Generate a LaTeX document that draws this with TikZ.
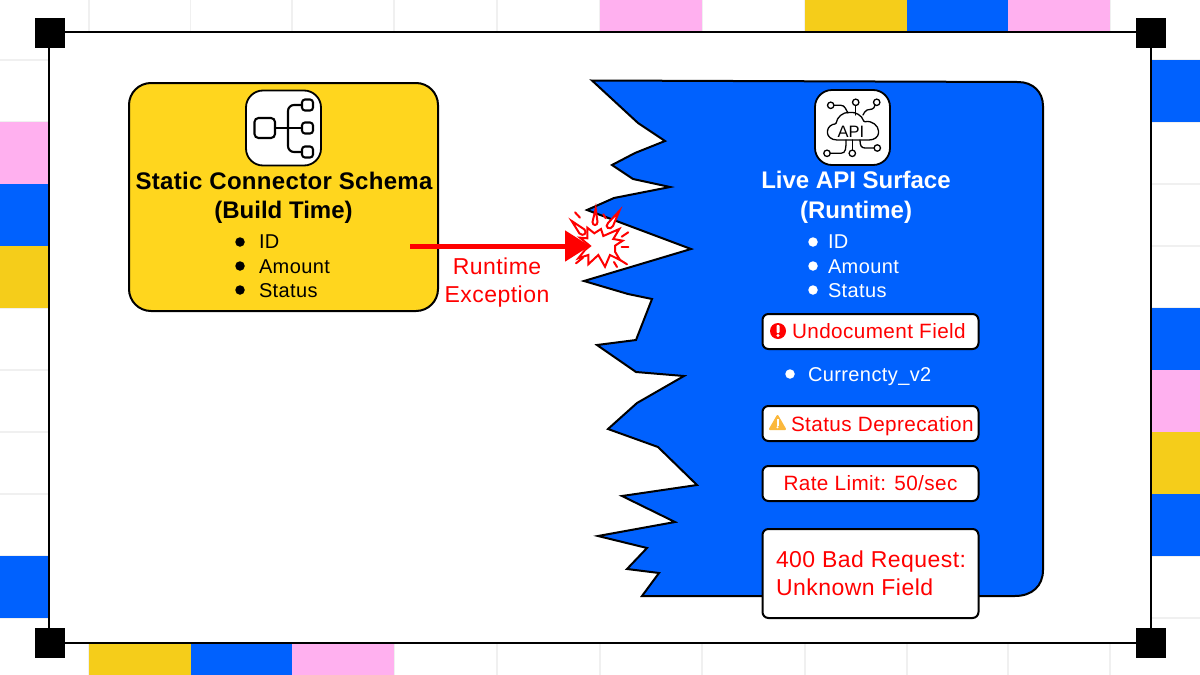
\documentclass[tikz,border=0pt]{standalone}
\usepackage{fontspec}
\setmainfont{Liberation Sans}
\newfontfamily\ftA[LetterSpace=2]{Liberation Sans}
\newfontfamily\ftB[LetterSpace=2]{Liberation Sans}
\newfontfamily\ftC[LetterSpace=1.3]{Liberation Sans}
\newfontfamily\ftD{Liberation Sans}
\usetikzlibrary{arrows.meta}
\definecolor{tblue}{HTML}{0061FE}
\definecolor{tpink}{HTML}{FFB0EF}
\definecolor{tyell}{HTML}{F5CD1A}
\definecolor{nyell}{HTML}{FFD61E}
\definecolor{grid}{HTML}{F0F0F0}
\definecolor{warn}{HTML}{FBB83C}
\definecolor{bang}{HTML}{FF0000}
\tikzset{
  tile/.style={draw=none},
  gridline/.style={draw=grid,line width=1.2pt},
  frameline/.style={draw=black,line width=2pt,fill=white},
  corner/.style={fill=black,draw=none,minimum size=30pt,inner sep=0pt},
  shapeline/.style={draw=black,line width=2pt,line join=miter},
  iconbox/.style={draw=black,line width=1.8pt,fill=white,rounded corners=17pt,minimum width=75pt,minimum height=75pt,inner sep=0pt},
  redbox/.style={draw=black,line width=2pt,fill=white,rounded corners=6pt,minimum width=216pt,inner sep=0pt},
  icoline/.style={draw=black,line width=2.1pt,line cap=round},
  icothin/.style={draw=black,line width=1.3pt,line cap=round},
  txt/.style={anchor=base west,inner sep=0pt,outer sep=0pt},
  ctr/.style={anchor=base,inner sep=0pt,outer sep=0pt},
  body/.style={font=\ftA\fontsize{20}{24}\selectfont},
  alert/.style={text=red,font=\ftB\fontsize{20.7}{25}\selectfont},
  alertb/.style={text=red,font=\ftB\fontsize{23}{27}\selectfont},
  bulletdot/.style={circle,minimum size=9.5pt,inner sep=0pt},
  burst/.style={draw=red,line width=2pt,fill=white,line join=miter},
  ray/.style={draw=red,line width=2pt,line cap=round},
  hit/.style={draw=red,line width=5pt,-{Triangle[length=25pt,width=30pt]}},
}
\begin{document}
\begin{tikzpicture}[x=1pt,y=-1pt]
\useasboundingbox (0,0) rectangle (1200,675);
\fill[white] (0,0) rectangle (1200,675);
% background grid
\foreach \x in {89,190.5,292,394,497,600,702,805,907,1008,1110}{
  \draw[gridline] (\x,0) -- (\x,32);
  \draw[gridline] (\x,643) -- (\x,675);
}
\foreach \y in {60,122,184,246,308,370,432,494,556,618}{
  \draw[gridline] (0,\y) -- (49,\y);
  \draw[gridline] (1151,\y) -- (1200,\y);
}
% coloured tiles
\fill[tpink] (600,0) rectangle (702,32);
\fill[tyell] (805,0) rectangle (907,32);
\fill[tblue] (907,0) rectangle (1008,32);
\fill[tpink] (1008,0) rectangle (1110,32);
\fill[tyell] (89,643) rectangle (190.5,675);
\fill[tblue] (190.5,643) rectangle (292,675);
\fill[tpink] (292,643) rectangle (394,675);
\fill[tpink] (0,122) rectangle (49,184);
\fill[tblue] (0,184) rectangle (49,246);
\fill[tyell] (0,246) rectangle (49,308);
\fill[tblue] (0,556) rectangle (49,618);
\fill[tblue] (1151,60) rectangle (1200,122);
\fill[tblue] (1151,308) rectangle (1200,370);
\fill[tpink] (1151,370) rectangle (1200,432);
\fill[tyell] (1151,432) rectangle (1200,494);
\fill[tblue] (1151,494) rectangle (1200,556);
% frame
\draw[frameline] (49,32) rectangle (1151,643);
\node[corner] (c1) at (50,33) {};
\node[corner] (c2) at (1151,33) {};
\node[corner] (c3) at (50,643) {};
\node[corner] (c4) at (1151,643) {};
% yellow panel
\draw[shapeline,fill=nyell,rounded corners=22pt] (129,83) rectangle (438,311);
\node[iconbox] (schemaicon) at (283.5,128) {};
\draw[icoline,rounded corners=4pt] (254.5,118) rectangle (275,138);
\draw[icoline] (275,128) -- (302,128);
\draw[icoline,rounded corners=6pt] (302,105) -- (288,105) -- (288,152) -- (302,152);
\foreach \y in {105,128,152}{
  \draw[icoline,fill=white,rounded corners=3pt] (302,\y-5.5) rectangle (313,\y+5.5);
}
\node[ctr,font=\ftC\bfseries\fontsize{24}{28}\selectfont] (t1) at (284,189) {Static Connector Schema};
\node[ctr,font=\ftD\bfseries\fontsize{24}{28}\selectfont] (t2) at (283.5,218) {(Build Time)};
\foreach \y in {242,266,290}{ \node[bulletdot,fill=black] at (240,\y) {}; }
\node[txt,body] (l1) at (259,248.5) {ID};
\node[txt,body] (l2) at (259,273) {Amount};
\node[txt,body] (l3) at (259,297) {Status};
% blue torn panel
\draw[shapeline,fill=tblue] (592,80.5) -- (638,123) -- (665,141) -- (635,153) -- (612,165) -- (633,179) -- (670,187) -- (614,198) -- (587,210) -- (691,249) -- (584,281) -- (628,294) -- (652,299) -- (636,340) -- (597,345) -- (636,372) -- (684,376) -- (637,403) -- (608,429) -- (658,447) -- (697,485) -- (622,496) -- (675,522) -- (598,536) -- (647,548) -- (627,569) -- (659,573) -- (642,596) -- (1015,596) .. controls (1032,596) and (1043,586) .. (1043,570) -- (1043,106) .. controls (1043,92) and (1033,82) .. (1018,82) -- cycle;
% API icon
\node[iconbox] (apiicon) at (852.5,127.5) {};
\draw[icothin,rounded corners=1pt] (838,140) .. controls (831,140) and (827.5,136) .. (827.5,132) .. controls (827.5,127) and (832,124) .. (836,124) .. controls (837,117) and (843,112) .. (850,112.5) .. controls (855,112) and (862,115) .. (864,122) .. controls (872,120) and (878.5,126) .. (878.5,132) .. controls (878.5,137) and (874,140) .. (868,140) -- cycle;
\node[anchor=center,inner sep=0pt,font=\ftD\fontsize{16.5}{18}\selectfont] (apitext) at (851,131.5) {API};
\draw[icothin] (834,105.3) -- (841,105.3) .. controls (845,105.3) and (846,110) .. (848,113);
\draw[icothin] (855.7,105.5) -- (855.7,115);
\draw[icothin] (875,105) .. controls (874,110) and (871,109) .. (867,110) .. controls (865,111) and (864,113) .. (863,115);
\draw[icothin] (830.2,153.3) -- (841,153.3) .. controls (846,153.3) and (846,148) .. (846,140);
\draw[icothin] (852.3,150) -- (852.3,140);
\draw[icothin] (874,148) -- (865,148) .. controls (861,148) and (860,145) .. (860,140);
\foreach \p in {(830.7,105.3),(855.7,102.3),(876.7,102.3),(827,153.3),(852.3,153.3),(877.3,148)}{
  \draw[icothin] \p circle (3.2pt);
}
\node[ctr,text=white,font=\ftD\bfseries\fontsize{24}{28}\selectfont] (t3) at (856,188.5) {Live API Surface};
\node[ctr,text=white,font=\ftD\bfseries\fontsize{24}{28}\selectfont] (t4) at (856,218) {(Runtime)};
\foreach \y in {242,266,290}{ \node[bulletdot,fill=white] at (813,\y) {}; }
\node[txt,body,text=white] (r1) at (828,248.5) {ID};
\node[txt,body,text=white] (r2) at (828,273) {Amount};
\node[txt,body,text=white] (r3) at (828,297) {Status};
% alert boxes
\node[redbox,minimum height=35pt] (b1) at (870.5,331.5) {};
\fill[bang] (778,331) circle (8pt);
\fill[white,rounded corners=0.8pt] (776.5,325) rectangle (779.5,333);
\fill[white] (778,335.5) circle (1.6pt);
\node[txt,alert] (b1t) at (792,338.7) {Undocument Field};
\node[bulletdot,fill=white] at (790,374) {};
\node[txt,body,text=white] (cur) at (808,381.5) {Currencty\_v2};
\node[redbox,minimum height=35pt] (b2) at (870.5,423.5) {};
\draw[warn,fill=warn,line join=round,line width=2pt] (777.5,416) -- (785,429) -- (770,429) -- cycle;
\fill[white] (776.5,419) rectangle (778.5,425.5);
\fill[white] (777.5,427.3) circle (1.1pt);
\node[txt,alert] (b2t) at (791,431) {Status Deprecation};
\node[redbox,minimum height=35pt,alert] (b3) at (870.5,483.5) {Rate Limit: 50/sec};
\node[redbox,minimum height=89pt] (b4) at (870.5,573.5) {};
\node[txt,alertb] (b4a) at (776,567.7) {400 Bad Request:};
\node[txt,alertb] (b4b) at (776,595.5) {Unknown Field};
% explosion
\draw[burst] (580,237.7) -- (587.3,238.3) -- (587.3,227.7) -- (594.3,233.3) -- (601,229) -- (603.3,236) -- (619.3,229) -- (613.3,239) -- (622.7,240.7) -- (615,245.7) -- (615,251.7) -- (620,260) -- (610,255) -- (605,266.7) -- (598.3,255) -- (588.3,264.3) -- (588.3,255) -- (578.3,258.3) -- (585,250) -- (590,246) -- cycle;
\draw[ray,fill=white] (595.7,208.5) -- (597.5,222) .. controls (597.5,226) and (592.5,226) .. (592.5,222) -- cycle;
\draw[ray,fill=white] (619.3,211) -- (613,226) .. controls (610,231) and (604,227) .. (608,223) -- cycle;
\draw[ray,fill=white] (571.7,221) -- (584.5,229.5) .. controls (588,233) and (583,237) .. (579.5,233.5) -- cycle;
\draw[ray] (575,212.3) -- (580,217.7);
\draw[ray] (603.3,214.3) -- (605.7,218.3);
\draw[ray] (621.7,236.7) -- (628.3,232.3);
\draw[ray] (621.7,247.3) -- (628.3,247.3);
\draw[ray] (617,258) -- (627,264.3);
\draw[ray] (614,262) -- (617,267);
\draw[ray] (576,263.3) -- (583,257.7);
% connector
\coordinate (hitstart) at (410,246);
\coordinate (hitend) at (590,246);
\draw[hit] (hitstart) -- (hitend);
\node[ctr,alertb] (e1) at (497,274) {Runtime};
\node[ctr,alertb] (e2) at (497,302) {Exception};
\end{tikzpicture}
\end{document}
